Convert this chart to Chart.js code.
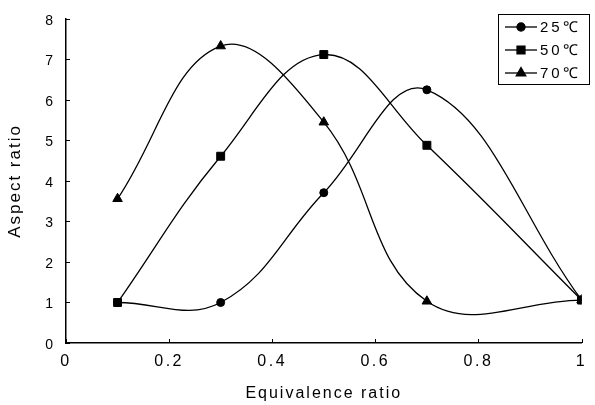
<!DOCTYPE html>
<html><head><meta charset="utf-8">
<script src="https://cdn.jsdelivr.net/npm/chart.js@4.4.0/dist/chart.umd.min.js"></script>
<style>html,body{margin:0;padding:0;background:#fff;}</style>
</head><body>
<canvas id="c" width="595" height="405"></canvas>
<script>
const xValues = [0.1, 0.3, 0.5, 0.7, 1.0];
const series25 = [1.0, 1.0, 3.71, 6.25, 1.06];
const series50 = [1.0, 4.61, 7.12, 4.88, 1.06];
const series70 = [3.56, 7.33, 5.45, 1.03, 1.06];
const seriesLabels = ['25℃', '50℃', '70℃'];
const pointStyles = ['circle', 'rect', 'triangle'];
const pointRadii = [4, 5.6, 5.5];
const xTickValues = [0, 0.2, 0.4, 0.6, 0.8, 1];
const yTickValues = [0, 1, 2, 3, 4, 5, 6, 7, 8];
const xTitle = 'Equivalence ratio';
const yTitle = 'Aspect ratio';

const FONT = '"Liberation Sans", Arial, sans-serif';
const allSeries = [series25, series50, series70];

const datasets = allSeries.map((s, i) => ({
  label: seriesLabels[i],
  data: xValues.map((x, j) => ({x: x, y: s[j]})),
  borderColor: '#000',
  backgroundColor: '#000',
  borderWidth: 1.3,
  pointStyle: pointStyles[i],
  pointRadius: pointRadii[i],
  pointBorderWidth: 1,
  tension: 0.4,
  fill: false
}));

const spacing = {
  id: 'spacing',
  beforeDraw(chart) { chart.ctx.letterSpacing = '2px'; },
  afterDatasetsDraw(chart) { chart.ctx.letterSpacing = '2.5px'; }
};

const innerTicks = {
  id: 'innerTicks',
  afterDraw(chart) {
    const ctx = chart.ctx, xs = chart.scales.x, ys = chart.scales.y, a = chart.chartArea;
    ctx.save();
    ctx.strokeStyle = '#000';
    ctx.lineWidth = 1;
    ctx.beginPath();
    xTickValues.forEach(v => {
      const px = Math.round(xs.getPixelForValue(v)) + 0.5;
      ctx.moveTo(px, a.bottom); ctx.lineTo(px, a.bottom - 4);
    });
    yTickValues.forEach(v => {
      const py = Math.round(ys.getPixelForValue(v)) + 0.5;
      ctx.moveTo(a.left, py); ctx.lineTo(a.left + 4, py);
    });
    ctx.stroke();
    ctx.restore();
  }
};

const boxLegend = {
  id: 'boxLegend',
  afterDraw(chart) {
    const ctx = chart.ctx;
    const bx = 498, by = 14, bw = 91, bh = 70;
    ctx.save();
    ctx.letterSpacing = '3px';
    ctx.fillStyle = '#fff';
    ctx.fillRect(bx, by, bw, bh);
    ctx.strokeStyle = '#000';
    ctx.lineWidth = 1;
    ctx.strokeRect(bx + 0.5, by + 0.5, bw, bh);
    chart.data.datasets.forEach((ds, i) => {
      const y = by + 13 + i * 23;
      ctx.beginPath();
      ctx.lineWidth = 1.3;
      ctx.moveTo(bx + 7, y); ctx.lineTo(bx + 39, y);
      ctx.stroke();
      ctx.fillStyle = '#000';
      Chart.helpers.drawPoint(ctx, {pointStyle: ds.pointStyle, radius: ds.pointRadius, rotation: 0, borderWidth: 1}, bx + 23, y);
      ctx.fillStyle = '#000';
      ctx.font = '15px ' + FONT;
      ctx.textAlign = 'left';
      ctx.textBaseline = 'middle';
      ctx.fillText(ds.label, bx + 42, y + 1);
    });
    ctx.restore();
  }
};

new Chart(document.getElementById('c'), {
  type: 'line',
  data: { datasets: datasets },
  options: {
    responsive: false,
    animation: false,
    layout: { padding: { top: 13, right: 3, left: 0, bottom: 0 } },
    plugins: { legend: { display: false }, tooltip: { enabled: false } },
    scales: {
      x: {
        type: 'linear',
        min: 0, max: 1,
        afterBuildTicks: s => { s.ticks = xTickValues.map(v => ({value: v})); },
        afterFit: s => { s.height = 62; },
        grid: { display: false, drawTicks: false },
        border: { display: true, color: '#000', width: 1.5 },
        ticks: { z: 1, color: '#000', font: { family: FONT, size: 16 }, padding: 9, maxRotation: 0,
                 callback: v => String(v) },
        title: { display: true, text: xTitle, color: '#000', font: { family: FONT, size: 16 }, padding: { top: 0, bottom: 1.5 } }
      },
      y: {
        type: 'linear',
        min: 0, max: 8,
        afterBuildTicks: s => { s.ticks = yTickValues.map(v => ({value: v})); },
        afterFit: s => { s.width = 66; },
        grid: { display: false, drawTicks: false },
        border: { display: true, color: '#000', width: 1.5 },
        ticks: { z: 1, color: '#000', font: { family: FONT, size: 14 }, padding: 10.5, labelOffset: 2 },
        title: { display: true, text: yTitle, color: '#000', font: { family: FONT, size: 17 }, padding: { top: 5, bottom: 0 } }
      }
    }
  },
  plugins: [spacing, innerTicks, boxLegend]
});
</script>
</body></html>
